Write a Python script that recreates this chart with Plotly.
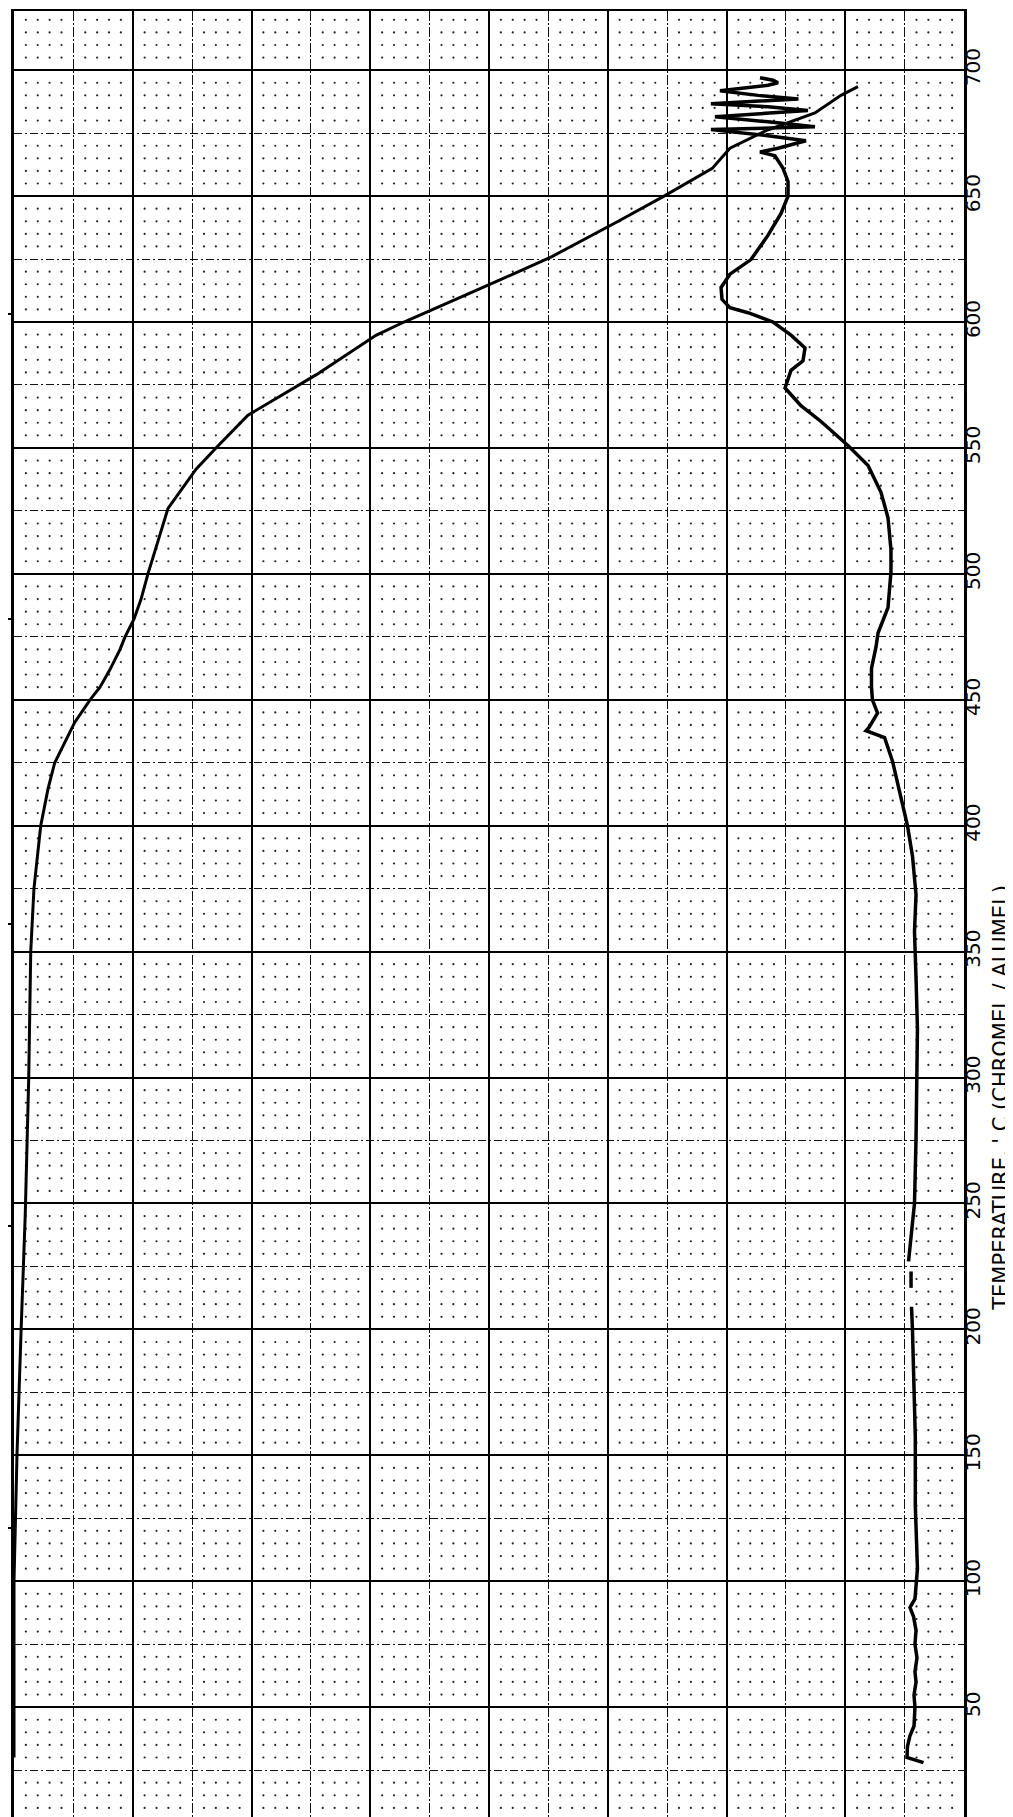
import numpy as np
import plotly.graph_objects as go

# ---- data ----
# TG (weight) curve: temperature (deg C) and chart-division reading (0-80)
tg_temp = [30, 100, 120, 150, 200, 246, 300, 350, 375, 400, 414.5, 425, 441, 450, 455, 462,
           470, 475, 482, 490, 500, 526, 541.6, 550, 563, 579, 594.7, 600, 616, 626, 639.5,
           650, 661, 669, 676, 683, 690, 693.5]
tg_val = [0, 0, 0.1, 0.25, 0.6, 0.95, 1.24, 1.41, 1.68, 2.25, 2.86, 3.43, 5.11, 6.4, 7.24, 8.08,
          8.93, 9.35, 10.1, 10.7, 11.28, 12.97, 15.33, 17.01, 19.7, 25.43, 30.48, 32.84, 40.59,
          45.3, 50.69, 54.74, 58.8, 60.29, 63.33, 67.45, 69.64, 71.07]

# DTA curve (None = break in the trace)
dta_temp = [28, 30, 34.4, 38.6, 42.5, 50, 54.8, 60, 64, 69.6, 75, 80.5, 86, 89.6, 93, 98.4, 105,
            130, 157, 200, 209, None, 216.5, 223, None, 227, 237.6, 250, 275.7, 300, 319.4,
            339.5, 358, 372.6, 388, 400, 411, 425.6, 435, 437, 437.7, 439, 444.7, 450, 455,
            462.5, 471, 476.5, 486.6, 500.8, 509.5, 522.3, 532.4, 543, 551, 560.5, 566.8,
            573.8, 580.8, 584.6, 589.7, 594.8, 600, 603.7, 605.7, 609, 613.7, 619, 624.8,
            634.4, 643.1, 650, 655.8, 661, 666, 667.5, 669, 672, 674, 676.4, 677.5, 679.5,
            681.5, 684, 685.5, 686.7, 688.6, 690, 691.8, 694, 695, 696, 697]
dta_val = [76.59, 75.20, 75.24, 75.45, 75.79, 75.87, 75.79, 75.96, 75.87, 76.04, 75.87, 75.96,
           75.75, 75.45, 75.87, 75.96, 76.08, 75.9, 75.9, 75.66, 75.58, None, 75.54, 75.54, None,
           75.33, 75.54, 75.83, 75.96, 76.04, 76.08, 75.96, 75.83, 75.96, 75.66, 75.24, 74.69,
           73.98, 73.31, 72.0, 71.75, 72.0, 72.72, 72.29, 72.21, 72.21, 72.59, 72.76, 73.6,
           73.85, 73.85, 73.6, 73.01, 71.92, 70.23, 67.96, 66.27, 64.93, 65.43, 66.44, 66.61,
           65.43, 63.92, 61.81, 60.29, 59.62, 59.54, 60.29, 62.06, 63.49, 64.59, 65.18, 65.18,
           64.76, 64.08, 62.82, 64.34, 66.69, 63.49, 58.69, 67.45, 63.49, 59.03, 66.86, 63.49,
           58.69, 66.06, 62.65, 59.45, 63.49, 64.34, 63.92, 62.82]

temp_ticks = list(range(0, 701, 50))
temp_ticktext = [str(t) for t in temp_ticks]
side_marks = [121, 241, 361, 482, 603]
axis_title = "TEMPERATURE, ' C (CHROMEL / ALUMEL)"

X_RANGE = [0, 80]
Y_RANGE = [4, 723.5]

# ---- graph-paper dot pattern ----
dx = [v for v in range(1, 80) if v % 5]
dy = [v for v in range(5, 724, 5) if v % 25]
gx, gy = np.meshgrid(dx, dy)

fig = go.Figure()
fig.add_trace(go.Scatter(x=gx.ravel(), y=gy.ravel(), mode="markers",
                         marker=dict(size=2.2, color="#222222"), hoverinfo="skip",
                         showlegend=False))
fig.add_trace(go.Scatter(x=tg_val, y=tg_temp, mode="lines",
                         line=dict(color="black", width=3), showlegend=False))
fig.add_trace(go.Scatter(x=dta_val, y=dta_temp, mode="lines", connectgaps=False,
                         line=dict(color="black", width=3.5), showlegend=False))
# invisible trace to carry the left-edge chart marks axis
fig.add_trace(go.Scatter(x=[None], y=[None], yaxis="y2", showlegend=False, hoverinfo="skip"))

fig.update_layout(
    width=1013, height=1817,
    margin=dict(l=6, r=57, t=3, b=2, autoexpand=False),
    paper_bgcolor="white", plot_bgcolor="white",
    font=dict(family="DejaVu Sans", color="black"),
    xaxis=dict(range=X_RANGE, dtick=10, tick0=0, showticklabels=False, ticks="",
               showgrid=True, gridcolor="black", gridwidth=2, zeroline=False,
               showline=True, linecolor="black", linewidth=2, mirror=True,
               minor=dict(dtick=5, tick0=0, showgrid=True, gridcolor="#111111",
                          gridwidth=1.2, griddash="10px,2px,2px,2px")),
    yaxis=dict(range=Y_RANGE, side="right", tickvals=temp_ticks, ticktext=temp_ticktext,
               tickangle=-90, ticks="", ticklabelstandoff=-11,
               tickfont=dict(size=20, family="DejaVu Sans", color="black"),
               showgrid=True, gridcolor="black", gridwidth=2, zeroline=False,
               showline=True, linecolor="black", linewidth=2.5, mirror=True,
               minor=dict(dtick=25, tick0=0, showgrid=True, gridcolor="#111111",
                          gridwidth=1.3, griddash="8px,3px,2px,3px")),
    yaxis2=dict(range=Y_RANGE, overlaying="y", side="left", anchor="x",
                tickvals=side_marks, showticklabels=False, ticks="outside",
                ticklen=6, tickwidth=2, tickcolor="black", showgrid=False,
                zeroline=False, showline=False),
    annotations=[dict(text=axis_title, textangle=-90, xref="paper", yref="y",
                      x=1.039, y=292, xanchor="center", yanchor="middle",
                      showarrow=False, font=dict(size=21, family="DejaVu Sans",
                                                 color="black"))],
)

fig.write_html("out.html")
